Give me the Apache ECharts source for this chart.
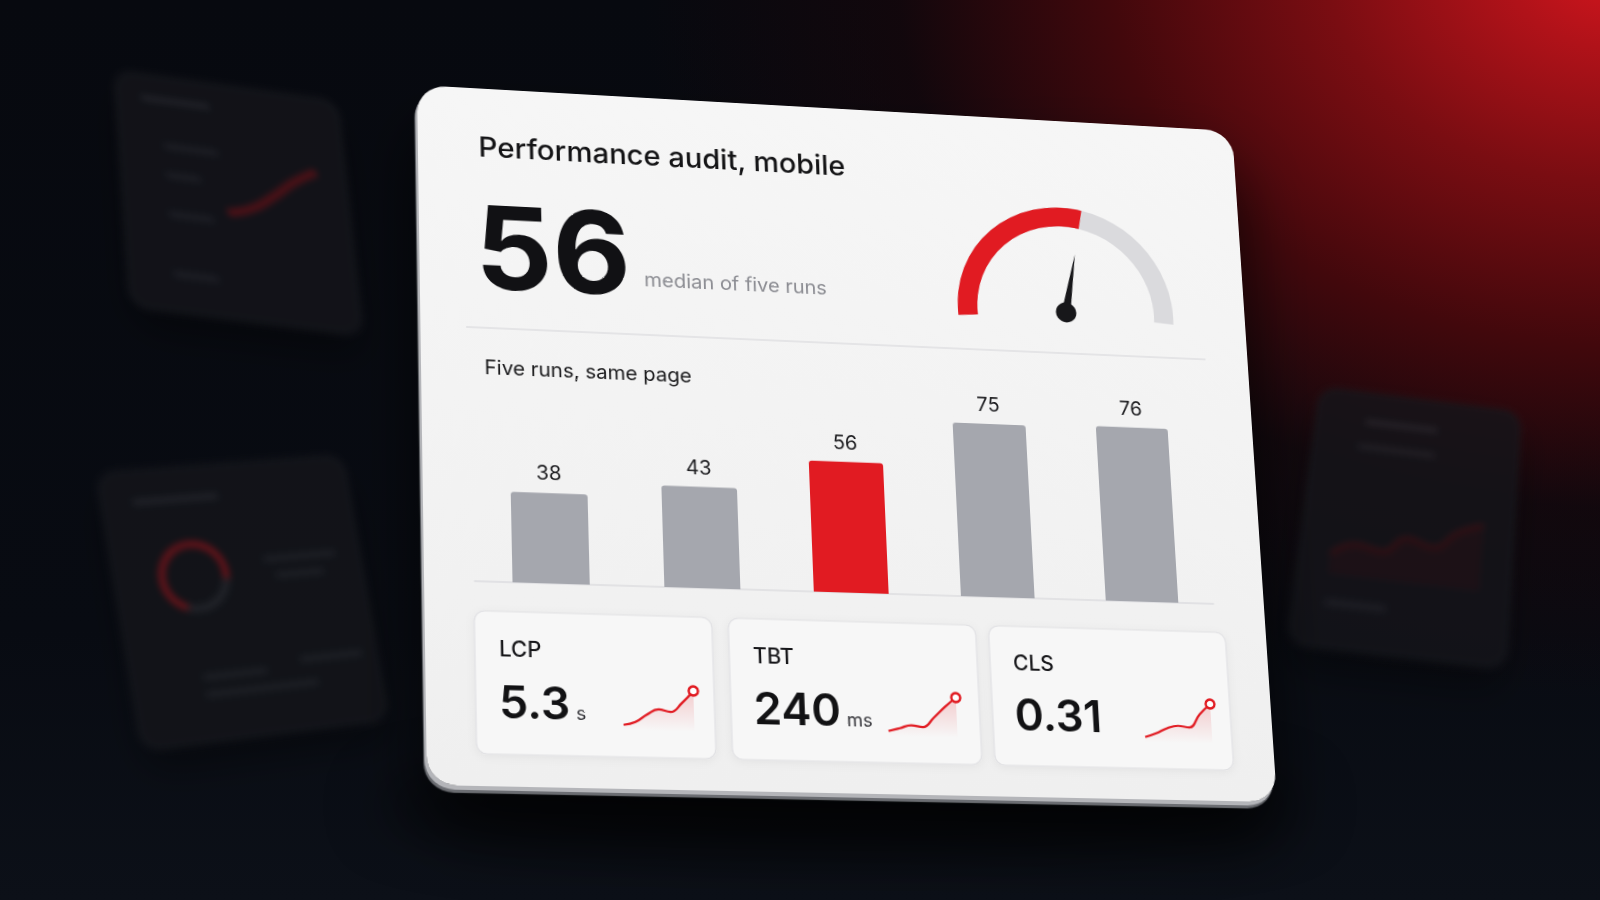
<!DOCTYPE html>
<html>
<head>
<meta charset="utf-8">
<script src="https://cdn.jsdelivr.net/npm/echarts@6/dist/echarts.min.js"></script>
<style>
  html, body { margin:0; padding:0; width:1600px; height:900px; overflow:hidden; }
  body {
    background:
      radial-gradient(ellipse 980px 740px at 1620px -40px, #d6161e 0%, #b01219 12%, #7a0d12 30%, #42080c 52%, rgba(26,6,10,0.55) 74%, rgba(8,10,16,0) 100%),
      linear-gradient(180deg, #07090f 0%, #080b12 70%, #0c1018 100%);
    font-family: Inter, "Noto Sans", sans-serif;
  }
  .q { position:absolute; left:0; top:0; transform-origin:0 0; }
  .ghost { background:#131419; border-radius:18px; filter: blur(3.6px); opacity:0.8;
           box-shadow: 0 0 0 1.5px #1d1e24, 0 20px 40px rgba(0,0,0,0.5); }
  #card { background: linear-gradient(180deg, #f6f6f6 0%, #f2f2f2 60%, #efefef 100%); border-radius:28px;
          box-shadow: -2px 4px 0 0 #b4b5b9, -3px 7px 1px 0 #6c6e73, 0 40px 70px rgba(0,0,0,0.75); }
  #floorShadow { position:absolute; left:380px; top:760px; width:920px; height:90px; border-radius:50%;
          background: rgba(0,0,0,0.55); filter: blur(30px); }
</style>
</head>
<body>
<div id="floorShadow"></div>
<div id="g1" class="q ghost"></div>
<div id="g2" class="q ghost"></div>
<div id="g3" class="q ghost"></div>
<div id="card" class="q"></div>
<script>
// ---------------- DATA ----------------
const titleText = 'Performance audit, mobile';
const medianLabel = 'median of five runs';
const runsTitle = 'Five runs, same page';
const runLabels = ['Run 1', 'Run 2', 'Run 3', 'Run 4', 'Run 5'];
const runScores = [38, 43, 56, 75, 76];
const medianScore = 56;
const metricNames = ['LCP', 'TBT', 'CLS'];
const metricValues = ['5.3', '240', '0.31'];
const metricUnits = ['s', 'ms', ''];
const lcpTrend = [3.0, 3.2, 3.7, 4.05, 3.9, 4.5, 5.3];
const tbtTrend = [150, 158, 166, 162, 187, 215, 240];
const clsTrend = [0.18, 0.195, 0.215, 0.225, 0.22, 0.27, 0.31];
// decorative background cards
const ghostLineA = [1.0, 1.4, 2.3, 3.4, 4.2];
const ghostRing = [72, 28];
const ghostLineB = [1.0, 1.6, 1.4, 2.2, 1.9, 2.8, 3.3];

// ---------------- HELPERS ----------------
function solve(A, b) {
  const n = b.length;
  const M = A.map((r, i) => r.concat([b[i]]));
  for (let c = 0; c < n; c++) {
    let p = c;
    for (let r = c + 1; r < n; r++) if (Math.abs(M[r][c]) > Math.abs(M[p][c])) p = r;
    const t = M[c]; M[c] = M[p]; M[p] = t;
    for (let r = 0; r < n; r++) {
      if (r === c) continue;
      const f = M[r][c] / M[c][c];
      for (let k = c; k <= n; k++) M[r][k] -= f * M[c][k];
    }
  }
  return M.map((row, i) => row[n] / row[i]);
}
function placeQuad(el, w, h, quad) { // quad: TL, TR, BR, BL
  const src = [[0, 0], [w, 0], [w, h], [0, h]];
  const A = [], B = [];
  for (let i = 0; i < 4; i++) {
    const [x, y] = src[i], [X, Y] = quad[i];
    A.push([x, y, 1, 0, 0, 0, -X * x, -X * y]); B.push(X);
    A.push([0, 0, 0, x, y, 1, -Y * x, -Y * y]); B.push(Y);
  }
  const m = solve(A, B);
  el.style.width = w + 'px';
  el.style.height = h + 'px';
  el.style.transform = `matrix3d(${m[0]},${m[3]},0,${m[6]},${m[1]},${m[4]},0,${m[7]},0,0,1,0,${m[2]},${m[5]},0,1)`;
}
const measureCtx = document.createElement('canvas').getContext('2d');
function textWidth(t, font) { measureCtx.font = font; return measureCtx.measureText(t).width; }

const RED = '#e11b22';
const GRAY = '#a5a7ae';
const FONT = 'Inter, "Noto Sans", sans-serif';

// ---------------- MAIN CARD ----------------
const W = 830, H = 700;
const cardEl = document.getElementById('card');
placeQuad(cardEl, W, H, [[417, 85], [1232, 131], [1277, 802], [427, 785]]);
const card = echarts.init(cardEl, null, { renderer: 'svg', width: W, height: H });

const boxXs = [47, 291, 548], boxWs = [228, 244, 240], boxY = 530, boxH = 139;
const sparkRight = [20, 23, 20];
const trends = [lcpTrend, tbtTrend, clsTrend];

const graphics = [];
graphics.push({ type: 'text', x: 59, y: 61, z: 10,
  style: { text: titleText, font: `500 29px ${FONT}`, fill: '#141416', textVerticalAlign: 'middle' } });
graphics.push({ type: 'text', x: 54, y: 208 - 0.365 * 118, z: 10,
  style: { text: String(medianScore), font: `700 118px ${FONT}`, fill: '#111114', textVerticalAlign: 'middle' } });
graphics.push({ type: 'text', x: 219, y: 190, z: 10,
  style: { text: medianLabel, font: `400 20px ${FONT}`, fill: '#8b8c92', textVerticalAlign: 'middle' } });
graphics.push({ type: 'line', z: 1, shape: { x1: 44, y1: 247, x2: 786, y2: 247 },
  style: { stroke: '#dfdfe2', lineWidth: 1.5 } });
graphics.push({ type: 'text', x: 61, y: 287, z: 10,
  style: { text: runsTitle, font: `400 20px ${FONT}`, fill: '#1a1a1c', textVerticalAlign: 'middle' } });
metricNames.forEach((name, i) => {
  const bx = boxXs[i], bw = boxWs[i];
  graphics.push({ type: 'rect', z: 0, shape: { x: bx, y: boxY, width: bw, height: boxH, r: 10 },
    style: { fill: '#f7f7f7', stroke: '#e1e1e4', lineWidth: 1.2, shadowBlur: 8, shadowColor: 'rgba(0,0,0,0.05)', shadowOffsetY: 2 } });
  graphics.push({ type: 'text', x: bx + 23, y: 567, z: 10,
    style: { text: name, font: `500 21px ${FONT}`, fill: '#17171a', textVerticalAlign: 'middle' } });
  const vf = `600 44px ${FONT}`;
  graphics.push({ type: 'text', x: bx + 22, y: 634 - 0.365 * 44, z: 10,
    style: { text: metricValues[i], font: vf, fill: '#121214', textVerticalAlign: 'middle' } });
  if (metricUnits[i]) {
    const vw = textWidth(metricValues[i], vf);
    graphics.push({ type: 'text', x: bx + 22 + vw + 5.5, y: 634 - 0.365 * 18, z: 10,
      style: { text: metricUnits[i], font: `400 18px ${FONT}`, fill: '#333338', textVerticalAlign: 'middle' } });
  }
});

const grids = [{ left: 48, top: 265, width: 730, height: 236 }];
const xAxes = [{ type: 'category', gridIndex: 0, data: runLabels,
  axisLine: { show: true, lineStyle: { color: '#dcdcdf', width: 1.5 } },
  axisTick: { show: false }, axisLabel: { show: false } }];
const yAxes = [{ type: 'value', gridIndex: 0, min: 0, max: 100, show: false, splitLine: { show: false } }];
const series = [];

series.push({
  type: 'gauge', center: [644, 204], radius: 111, startAngle: 184, endAngle: -4, min: 0, max: 100,
  axisLine: { lineStyle: { width: 20, color: [[1, '#dadadd']] } },
  progress: { show: true, width: 20, itemStyle: { color: RED } },
  splitLine: { show: false }, axisTick: { show: false }, axisLabel: { show: false },
  pointer: { show: true, icon: 'triangle', length: '57%', width: 9, offsetCenter: [0, 0], itemStyle: { color: '#17171a' } },
  anchor: { show: true, size: 21, showAbove: true, itemStyle: { color: '#17171a' } },
  title: { show: false }, detail: { show: false },
  data: [{ value: medianScore }]
});

series.push({
  type: 'bar', xAxisIndex: 0, yAxisIndex: 0, barWidth: 74,
  data: runScores.map(v => ({ value: v, itemStyle: { color: v === medianScore ? RED : GRAY } })),
  itemStyle: { borderRadius: [3, 3, 0, 0] },
  label: { show: true, position: 'top', distance: 10, fontSize: 20, fontFamily: FONT, color: '#1d1d20' }
});

trends.forEach((arr, i) => {
  const gi = i + 1;
  grids.push({ left: boxXs[i] + boxWs[i] - sparkRight[i] - 68, top: 603, width: 68, height: 40 });
  xAxes.push({ type: 'category', gridIndex: gi, show: false, boundaryGap: false, data: arr.map((_, k) => k) });
  yAxes.push({ type: 'value', gridIndex: gi, show: false, scale: true,
    min: v => v.min - (v.max - v.min) * 0.15, max: v => v.max });
  series.push({
    type: 'line', xAxisIndex: gi, yAxisIndex: gi, smooth: 0.45, symbol: 'none', showSymbol: true,
    lineStyle: { color: RED, width: 2.2 },
    areaStyle: { color: new echarts.graphic.LinearGradient(0, 0, 0, 1, [
      { offset: 0, color: 'rgba(225,27,34,0.28)' }, { offset: 1, color: 'rgba(225,27,34,0)' }]) },
    data: arr.map((v, k) => k === arr.length - 1
      ? { value: v, symbol: 'circle', symbolSize: 9, itemStyle: { color: '#ffffff', borderColor: RED, borderWidth: 2.4 } }
      : v),
    z: 3
  });
});

card.setOption({
  animation: false,
  grid: grids, xAxis: xAxes, yAxis: yAxes, series: series,
  graphic: { elements: graphics }
});

// ---------------- GHOST CARDS ----------------
function ghostChart(id, w, h, quad, opt) {
  const el = document.getElementById(id);
  placeQuad(el, w, h, quad);
  const c = echarts.init(el, null, { renderer: 'svg', width: w, height: h });
  c.setOption(Object.assign({ animation: false }, opt));
}
const bar = (x, y, w, col) => ({ type: 'rect', shape: { x, y, width: w, height: 5, r: 2.5 }, style: { fill: col || '#25262c' } });

ghostChart('g1', 230, 240, [[115, 71], [337, 102], [362, 335], [131, 306]], {
  graphic: { elements: [bar(25, 22, 70, '#2a2b31'), bar(45, 70, 55), bar(45, 100, 35), bar(45, 140, 45), bar(45, 200, 45)] },
  grid: { left: 105, top: 65, width: 95, height: 85 },
  xAxis: { type: 'category', show: false, boundaryGap: false, data: ghostLineA.map((_, i) => i) },
  yAxis: { type: 'value', show: false, min: 0 },
  series: [{ type: 'line', data: ghostLineA, smooth: true, symbol: 'none',
    lineStyle: { color: '#6a1116', width: 7 } }]
});
ghostChart('g2', 250, 270, [[97, 474], [342, 456], [388, 719], [143, 750]], {
  graphic: { elements: [bar(30, 28, 85, '#2a2b31'), bar(150, 95, 75), bar(160, 112, 50),
    bar(70, 205, 65), bar(170, 198, 65), bar(70, 222, 115)] },
  series: [{ type: 'pie', center: [78, 108], radius: [29, 35], startAngle: 250, label: { show: false },
    data: ghostRing.map((v, i) => ({ value: v, itemStyle: { color: i === 0 ? '#8a151b' : '#2a2b31' } })) }]
});
ghostChart('g3', 210, 260, [[1321, 388], [1520, 413], [1505, 668], [1288, 643]], {
  graphic: { elements: [bar(50, 28, 75, '#2a2b31'), bar(45, 55, 80), bar(30, 215, 60)] },
  grid: { left: 30, top: 120, width: 150, height: 70 },
  xAxis: { type: 'category', show: false, boundaryGap: false, data: ghostLineB.map((_, i) => i) },
  yAxis: { type: 'value', show: false, min: 0 },
  series: [{ type: 'line', data: ghostLineB, smooth: true, symbol: 'none',
    lineStyle: { color: '#4e0f13', width: 3 }, areaStyle: { color: 'rgba(80,14,19,0.3)' } }]
});
</script>
</body>
</html>
